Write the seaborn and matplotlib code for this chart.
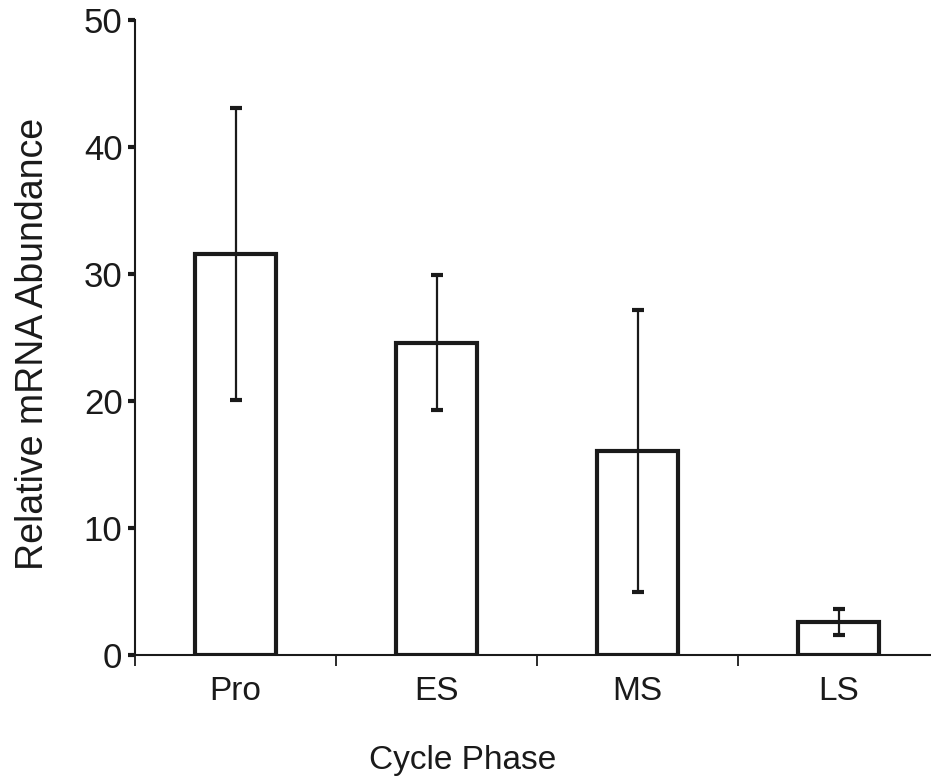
import matplotlib
matplotlib.use("Agg")
import matplotlib.pyplot as plt
import seaborn as sns
import numpy as np
import pandas as pd

phases = ["Pro", "ES", "MS", "LS"]
abundance = [31.6, 24.6, 16.1, 2.6]
err = [11.5, 5.3, 11.1, 1.05]

sns.set_theme(style="ticks")
plt.rcParams['font.family'] = ['Liberation Sans', 'DejaVu Sans']

df = pd.DataFrame({"phase": phases, "value": abundance})

fig = plt.figure(figsize=(9.31, 7.79), dpi=100)
ax = fig.add_axes([135/931, 1-655/779, 1-135/931, 635/779])

sns.barplot(data=df, x="phase", y="value", color="white", edgecolor="#1a1a1a",
            linewidth=3.0, width=0.4, ax=ax, errorbar=None)
for p in ax.patches:
    p.set_facecolor("white")

xpos = np.arange(len(phases))
ax.errorbar(xpos, abundance, yerr=err, fmt="none", ecolor="#1a1a1a",
            elinewidth=1.6, capsize=4, capthick=3)

ax.set_ylim(0, 50)
ax.set_xlim(-0.5, 3.46)
ax.set_yticks([0, 10, 20, 30, 40, 50])
ax.set_xticks(xpos)
ax.set_xticklabels(phases)
ax.set_xticks([-0.5, 0.5, 1.5, 2.5], minor=True)
ax.tick_params(axis="x", which="major", length=0, pad=15, labelsize=24, labelcolor="#1a1a1a")
ax.tick_params(axis="x", which="minor", length=8, width=1.3, color="#1a1a1a")
ax.tick_params(axis="y", length=5, width=3, pad=4, labelsize=25, color="#1a1a1a", labelcolor="#1a1a1a")

for s in ["top", "right"]:
    ax.spines[s].set_visible(False)
ax.spines["left"].set_linewidth(1.5)
ax.spines["bottom"].set_linewidth(1.5)
ax.spines["left"].set_color("#1a1a1a")
ax.spines["bottom"].set_color("#1a1a1a")

ax.set_xlabel("Cycle Phase", fontsize=24, color="#1a1a1a")
ax.set_ylabel("Relative mRNA Abundance", fontsize=27, color="#1a1a1a")
ax.xaxis.set_label_coords(0.412, -0.141)
ax.yaxis.set_label_coords(-0.1055, 0.49)

fig.savefig("out.png", dpi=100)
